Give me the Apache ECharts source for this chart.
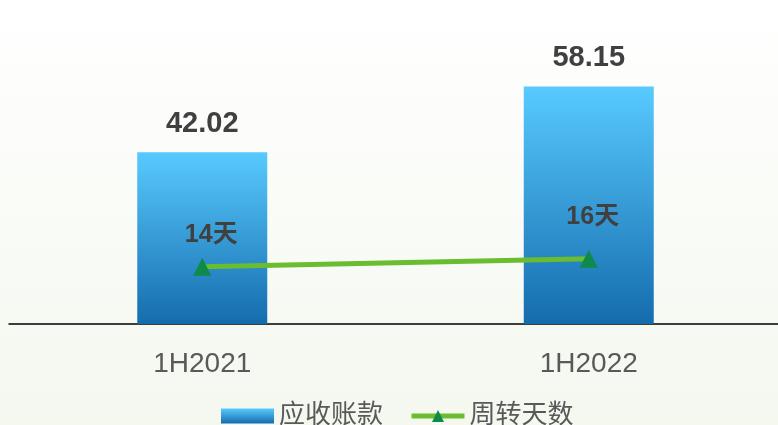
<!DOCTYPE html>
<html>
<head>
<meta charset="utf-8">
<title>应收账款</title>
<script src="https://cdn.jsdelivr.net/npm/echarts@6/dist/echarts.min.js"></script>
<style>
    html, body { margin: 0; padding: 0; }
    #echart_main { width: 778px; height: 425px; }
</style>
</head>
<body>
<div id="echart_main"></div>
<script>
// 数据
var categories = ['1H2021', '1H2022'];
var receivables = [42.02, 58.15];   // 应收账款
var turnoverDays = [14, 16];        // 周转天数

// 标签偏移 (样式)
var dayLabelOffsets = [[9, -5], [4, -15]];

var fontFamily = '"Liberation Sans", "Noto Sans CJK SC", sans-serif';
var barGradient = new echarts.graphic.LinearGradient(0, 0, 0, 1, [
    { offset: 0, color: '#58caff' },
    { offset: 1, color: '#156cad' }
]);

var myChart = echarts.init(document.getElementById('echart_main'));
var option = {
    backgroundColor: new echarts.graphic.LinearGradient(0, 0, 0, 1, [
        { offset: 0, color: '#ffffff' },
        { offset: 1, color: '#f4f8ef' }
    ]),
    animation: false,
    legend: {
        left: 216,
        top: 398,
        itemWidth: 53,
        itemHeight: 15,
        itemGap: 26,
        textStyle: { fontSize: 26, color: '#595959', fontFamily: fontFamily },
        data: [
            { name: '应收账款', icon: 'rect' },
            { name: '周转天数', lineStyle: { width: 5, color: '#6abd2e' } }
        ]
    },
    grid: {
        top: 38,
        left: 9,
        width: 773,
        height: 286,
        outerBoundsMode: 'none'
    },
    xAxis: {
        type: 'category',
        data: categories,
        axisLine: { lineStyle: { color: '#000000', width: 1.5 } },
        axisTick: { show: false },
        axisLabel: {
            margin: 26,
            fontSize: 28,
            color: '#595959',
            fontFamily: fontFamily
        }
    },
    yAxis: {
        type: 'value',
        min: 0,
        max: 70,
        show: false,
        splitLine: { show: false }
    },
    series: [
        {
            name: '应收账款',
            type: 'bar',
            barWidth: 130,
            itemStyle: { color: barGradient },
            label: {
                show: true,
                position: 'top',
                distance: 14,
                fontSize: 29,
                fontWeight: 'bold',
                color: '#404040',
                fontFamily: fontFamily
            },
            data: receivables
        },
        {
            name: '周转天数',
            type: 'line',
            symbol: 'triangle',
            symbolSize: [18, 18],
            lineStyle: { color: '#6abd2e', width: 5 },
            itemStyle: { color: '#0e8a4a' },
            label: {
                show: true,
                position: 'top',
                fontSize: 25,
                fontWeight: 'bold',
                color: '#404040',
                fontFamily: fontFamily,
                formatter: function (p) { return p.value + '天'; }
            },
            data: turnoverDays.map(function (v, i) {
                return { value: v, label: { offset: dayLabelOffsets[i] } };
            })
        }
    ]
};
// 绘制图表
myChart.setOption(option);
</script>
</body>
</html>
